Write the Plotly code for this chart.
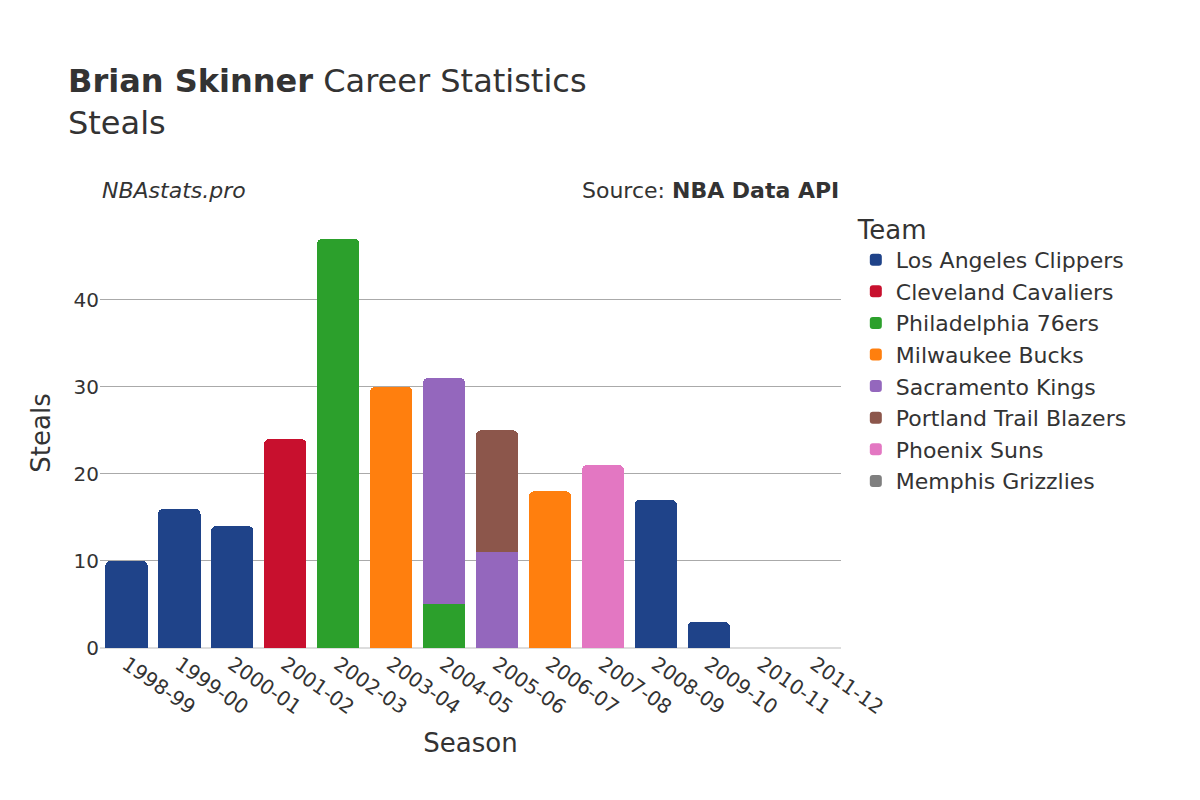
import plotly.graph_objects as go

seasons = ["1998-99","1999-00","2000-01","2001-02","2002-03","2003-04","2004-05","2005-06","2006-07","2007-08","2008-09","2009-10","2010-11","2011-12"]
teams = ["Los Angeles Clippers","Cleveland Cavaliers","Philadelphia 76ers","Milwaukee Bucks","Sacramento Kings","Portland Trail Blazers","Phoenix Suns","Memphis Grizzlies"]
colors = ["#1f4389","#c8102e","#2ca02c","#ff7f0e","#9467bd","#8c564b","#e377c2","#7f7f7f"]
steals = {
    "Los Angeles Clippers":   [10,16,14,None,None,None,None,None,None,None,17,3,0,None],
    "Cleveland Cavaliers":    [None,None,None,24,None,None,None,None,None,None,None,None,None,None],
    "Philadelphia 76ers":     [None,None,None,None,47,None,5,None,None,None,None,None,None,None],
    "Milwaukee Bucks":        [None,None,None,None,None,30,None,None,18,None,None,None,None,None],
    "Sacramento Kings":       [None,None,None,None,None,None,26,11,None,None,None,None,None,None],
    "Portland Trail Blazers": [None,None,None,None,None,None,None,14,None,None,None,None,None,None],
    "Phoenix Suns":           [None,None,None,None,None,None,None,None,None,21,None,None,None,None],
    "Memphis Grizzlies":      [None,None,None,None,None,None,None,None,None,None,None,None,None,0],
}

fig = go.Figure()
for t, c in zip(teams, colors):
    fig.add_trace(go.Bar(x=seasons, y=steals[t], name=t, marker_color=c,
                         marker_line_width=0))

fig.update_layout(
    width=1200, height=800,
    barmode="stack", barcornerradius=5, bargap=0.2,
    font=dict(family="DejaVu Sans", color="#333", size=20),
    plot_bgcolor="white", paper_bgcolor="white",
    margin=dict(l=92, r=367, t=210, b=160),
    title=dict(text="<b>Brian Skinner</b> Career Statistics<br>Steals", x=0.05, y=0.895,
               xanchor="left", yanchor="top", font=dict(size=32)),
    legend=dict(title=dict(text="Team", font=dict(size=26)), x=1.02, y=1.03, yanchor="top",
                font=dict(size=22), traceorder="normal", tracegroupgap=6, itemsizing="constant"),
    xaxis=dict(title=dict(text="Season", font=dict(size=26)), tickangle=35, type="category",
               categoryorder="array", categoryarray=seasons),
    yaxis=dict(title=dict(text="Steals", font=dict(size=26)), gridcolor="#aaa",
               range=[0, 49.4], tickvals=[0,10,20,30,40], zeroline=True, zerolinecolor="#ddd"),
    annotations=[
        dict(text="<i>NBAstats.pro</i>", xref="paper", yref="paper", x=0.0, y=1.03,
             xanchor="left", yanchor="bottom", showarrow=False, font=dict(size=22)),
        dict(text="Source: <b>NBA Data API</b>", xref="paper", yref="paper", x=1.0, y=1.03,
             xanchor="right", yanchor="bottom", showarrow=False, font=dict(size=22)),
    ],
)
fig.write_html("out.html")
